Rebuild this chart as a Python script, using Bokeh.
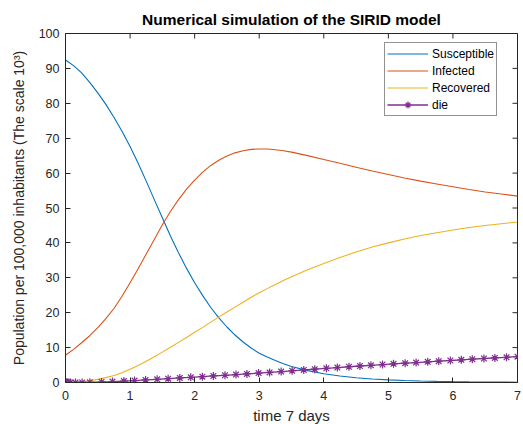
import math
from bokeh.plotting import figure
from bokeh.models import Range1d, Legend, LegendItem, FixedTicker
from bokeh.embed import file_html
from bokeh.resources import INLINE

# ---- data ----
t_curve = [0, 0.125, 0.25, 0.375, 0.5, 0.625, 0.75, 0.875, 1.0, 1.125, 1.25, 1.375, 1.5,
           1.625, 1.75, 1.875, 2.0, 2.125, 2.25, 2.375, 2.5, 2.625, 2.75, 2.875, 3.0,
           3.125, 3.25, 3.375, 3.5, 3.75, 4.0, 4.25, 4.5, 4.75, 5.0, 5.25, 5.5, 5.75,
           6.0, 6.25, 6.5, 6.75, 7.0]
susceptible = [92.4, 90.8, 88.7, 86.0, 83.0, 79.7, 76.0, 72.0, 67.6, 62.8, 57.7, 52.4, 47.2,
               42.0, 37.2, 32.7, 28.6, 24.9, 21.5, 18.5, 15.9, 13.6, 11.6, 9.9, 8.4,
               7.3, 6.3, 5.4, 4.6, 3.4, 2.5, 1.85, 1.35, 1.0, 0.75, 0.57, 0.42, 0.32,
               0.24, 0.18, 0.14, 0.11, 0.08]
infected = [7.8, 9.5, 11.4, 13.4, 15.7, 18.3, 21.2, 24.7, 28.6, 32.6, 36.8, 41.0, 45.2,
            49.0, 52.4, 55.4, 58.0, 60.3, 62.2, 63.7, 64.9, 65.8, 66.4, 66.8, 66.9,
            66.9, 66.7, 66.4, 66.0, 65.0, 63.9, 62.8, 61.7, 60.6, 59.6, 58.6, 57.7, 56.9,
            56.1, 55.3, 54.6, 54.0, 53.4]
recovered = [0.0, 0.07, 0.25, 0.52, 0.9, 1.4, 2.0, 2.8, 3.8, 4.9, 6.1, 7.4, 8.7,
             10.1, 11.5, 12.9, 14.4, 15.8, 17.3, 18.8, 20.2, 21.6, 23.0, 24.4, 25.7,
             26.9, 28.1, 29.2, 30.3, 32.3, 34.1, 35.8, 37.4, 38.8, 40.0, 41.1, 42.1, 42.9,
             43.7, 44.4, 45.0, 45.5, 46.0]

t_die = [0, 0.01, 0.02, 0.03, 0.05, 0.077, 0.155, 0.258, 0.377, 0.558, 0.728, 0.904, 1.069,
         1.24, 1.42, 1.59, 1.77, 1.94, 2.12, 2.29, 2.47, 2.64, 2.81, 2.99, 3.16, 3.34, 3.51,
         3.69, 3.86, 4.04, 4.21, 4.39, 4.56, 4.73, 4.91, 5.08, 5.26, 5.43, 5.61, 5.78, 5.96,
         6.13, 6.30, 6.48, 6.65, 6.83, 7.0]
die = [0, 0, 0, 0, 0, 0.005, 0.01, 0.03, 0.07, 0.15, 0.26, 0.41, 0.56,
       0.73, 0.92, 1.10, 1.30, 1.48, 1.68, 1.87, 2.07, 2.26, 2.46, 2.69, 2.90, 3.14, 3.36,
       3.60, 3.82, 4.05, 4.27, 4.51, 4.73, 4.93, 5.15, 5.34, 5.54, 5.72, 5.92, 6.11, 6.31,
       6.49, 6.68, 6.88, 7.05, 7.22, 7.40]

x_ticks = [0, 1, 2, 3, 4, 5, 6, 7]
y_ticks = [0, 10, 20, 30, 40, 50, 60, 70, 80, 90, 100]

FONT = "Liberation Sans"
AX = "#262626"

p = figure(frame_width=452, frame_height=349,
           x_range=Range1d(x_ticks[0], x_ticks[-1]), y_range=Range1d(y_ticks[0], y_ticks[-1]),
           output_backend="svg", toolbar_location=None,
           title="Numerical simulation of the SIRID model",
           min_border_left=65, min_border_right=6, min_border_top=33, min_border_bottom=42,
           background_fill_color="white", border_fill_color="white")

p.title.align = "center"
p.title.text_font = FONT
p.title.text_font_size = "15.5px"
p.title.text_font_style = "bold"
p.title.text_color = "black"
p.title.standoff = 11

p.xgrid.visible = False
p.ygrid.visible = False
p.outline_line_color = AX
p.outline_line_width = 1

for ax, ticks in ((p.xaxis[0], x_ticks), (p.yaxis[0], y_ticks)):
    ax.ticker = FixedTicker(ticks=ticks)
    ax.axis_line_color = AX
    ax.major_tick_line_color = AX
    ax.major_tick_in = 5
    ax.major_tick_out = 0
    ax.minor_tick_line_color = None
    ax.major_label_text_font = FONT
    ax.major_label_text_font_size = "12.5px"
    ax.major_label_text_color = AX
    ax.axis_label_text_font = FONT
    ax.axis_label_text_font_style = "normal"
    ax.axis_label_text_color = AX

p.xaxis.axis_label = "time 7 days"
p.xaxis.axis_label_text_font_size = "15px"
p.xaxis.major_label_standoff = 8
p.xaxis.axis_label_standoff = 4
p.yaxis.axis_label = "Population per 100,000 inhabitants (The scale 10³)"
p.yaxis.axis_label_text_font_size = "14px"
p.yaxis.major_label_standoff = 6
p.yaxis.axis_label_standoff = 9

# box ticks on the top and right edges (inward, 5 px)
n_x, n_y = len(x_ticks), len(y_ticks)
p.ray(x=x_ticks, y=[y_ticks[-1]] * n_x, length=5, length_units="screen",
      angle=-math.pi / 2, line_color=AX, line_width=1)
p.ray(x=[x_ticks[-1]] * n_y, y=y_ticks, length=5, length_units="screen",
      angle=math.pi, line_color=AX, line_width=1)

c_s, c_i, c_r, c_d = "#0072BD", "#D95319", "#EDB120", "#7E2F8E"
r_s = p.line(t_curve, susceptible, line_color=c_s, line_width=1.1)
r_i = p.line(t_curve, infected, line_color=c_i, line_width=1.1)
r_r = p.line(t_curve, recovered, line_color=c_r, line_width=1.1)
r_dl = p.line(t_die, die, line_color=c_d, line_width=1.3)
r_dm = p.scatter(t_die, die, marker="asterisk", size=8, line_color=c_d, line_width=1.2)

legend = Legend(items=[LegendItem(label="Susceptible", renderers=[r_s]),
                       LegendItem(label="Infected", renderers=[r_i]),
                       LegendItem(label="Recovered", renderers=[r_r]),
                       LegendItem(label="die", renderers=[r_dl, r_dm])],
                location=(319, 266))
legend.label_text_font = FONT
legend.label_text_font_size = "12px"
legend.label_text_color = "black"
legend.glyph_width = 41
legend.glyph_height = 17
legend.label_height = 17
legend.label_standoff = 4
legend.spacing = 0
legend.padding = 2
legend.margin = 0
legend.border_line_color = AX
legend.border_line_width = 1
legend.background_fill_color = "white"
legend.background_fill_alpha = 1
p.add_layout(legend)

open("out.html", "w").write(file_html(p, INLINE))
